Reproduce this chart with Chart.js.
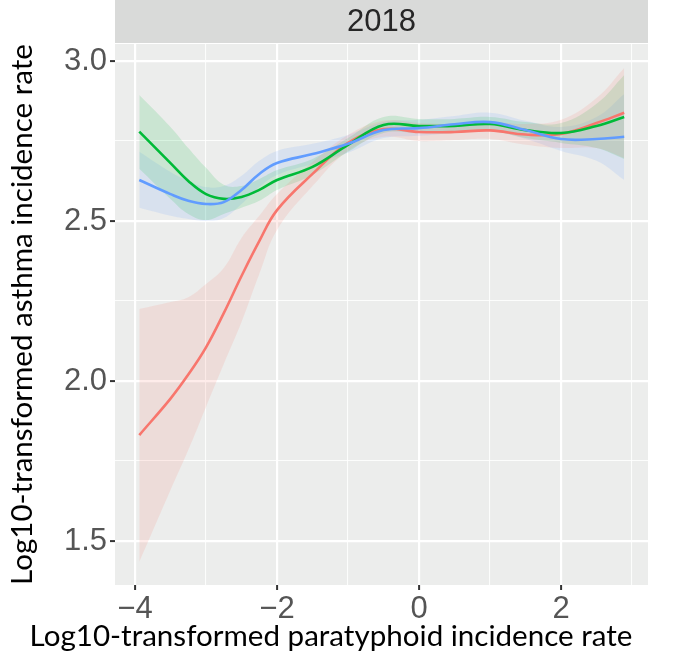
<!DOCTYPE html>
<html>
<head>
<meta charset="utf-8">
<script src="https://cdn.jsdelivr.net/npm/chart.js@4/dist/chart.umd.min.js"></script>
<style>
  html, body { margin: 0; padding: 0; background: #ffffff; }
  #wrap { width: 677px; height: 664px; }
</style>
</head>
<body>
<div id="wrap"><canvas id="c" width="677" height="664"></canvas></div>
<script>
// ---- data ----
const facetLabel = "2018";
const xTitle = "Log10-transformed paratyphoid incidence rate";
const yTitle = "Log10-transformed asthma incidence rate";

const xVals = [-3.94, -3.5, -3.25, -3, -2.75, -2.5, -2.25, -2, -1.5, -1, -0.5, 0, 0.5, 1, 1.5, 2, 2.5, 2.89];

const redLine  = [1.831, 1.945, 2.020, 2.105, 2.212, 2.328, 2.437, 2.534, 2.647, 2.744, 2.787, 2.778, 2.778, 2.783, 2.770, 2.772, 2.806, 2.838];
const redLow   = [1.434, 1.659, 1.784, 1.919, 2.053, 2.184, 2.334, 2.472, 2.609, 2.719, 2.763, 2.750, 2.753, 2.756, 2.738, 2.728, 2.728, 2.697];
const redUp    = [2.225, 2.247, 2.262, 2.303, 2.353, 2.447, 2.516, 2.584, 2.684, 2.769, 2.813, 2.806, 2.803, 2.809, 2.803, 2.816, 2.884, 2.978];

const greenLine = [2.779, 2.681, 2.625, 2.584, 2.569, 2.575, 2.597, 2.628, 2.669, 2.738, 2.800, 2.797, 2.797, 2.803, 2.784, 2.775, 2.797, 2.825];
const greenLow  = [2.663, 2.569, 2.522, 2.503, 2.522, 2.541, 2.563, 2.597, 2.644, 2.716, 2.775, 2.775, 2.775, 2.781, 2.759, 2.744, 2.728, 2.694];
const greenUp   = [2.894, 2.794, 2.728, 2.666, 2.613, 2.609, 2.631, 2.659, 2.694, 2.759, 2.825, 2.819, 2.819, 2.825, 2.809, 2.806, 2.866, 2.956];

const blueLine = [2.628, 2.584, 2.563, 2.553, 2.559, 2.597, 2.647, 2.681, 2.709, 2.741, 2.784, 2.790, 2.802, 2.809, 2.784, 2.756, 2.756, 2.763];
const blueLow  = [2.541, 2.516, 2.506, 2.500, 2.509, 2.553, 2.606, 2.644, 2.678, 2.713, 2.759, 2.766, 2.775, 2.781, 2.756, 2.719, 2.688, 2.628];
const blueUp   = [2.716, 2.653, 2.625, 2.606, 2.609, 2.641, 2.688, 2.719, 2.741, 2.769, 2.809, 2.816, 2.828, 2.838, 2.813, 2.794, 2.825, 2.897];

const xTicks = [-4, -3, -2, -1, 0, 1, 2, 3];
const xMajor = [-4, -2, 0, 2];
const yTicks = [1.5, 1.75, 2.0, 2.25, 2.5, 2.75, 3.0];
const yMajor = [1.5, 2.0, 2.5, 3.0];

const xLimits = [-4.282, 3.225];
const yLimits = [1.3625, 3.053];

// ---- styling ----
const RED = '#F8766D', GREEN = '#00BA38', BLUE = '#619CFF';
const bandAlpha = 0.14;
function rgba(hex, a) {
  const n = parseInt(hex.slice(1), 16);
  return `rgba(${(n >> 16) & 255},${(n >> 8) & 255},${n & 255},${a})`;
}
const pts = arr => xVals.map((x, i) => ({ x: x, y: arr[i] }));

const titleFamily = 'Lato, "Open Sans", sans-serif';
const tickFamily = '"Liberation Sans", Arial, sans-serif';
const mctx = document.createElement('canvas').getContext('2d');
mctx.font = '100px ' + titleFamily;
const titleSize = 100 * 603 / mctx.measureText(xTitle).width;
const TENSION = 0.4;

function lineDs(label, data, color, order) {
  return { label, data: pts(data), borderColor: color, borderWidth: 2.6, pointRadius: 0,
           fill: false, tension: TENSION, order };
}
function lowDs(label, data) {
  return { label, data: pts(data), borderColor: 'rgba(0,0,0,0)', borderWidth: 0, pointRadius: 0,
           fill: false, tension: TENSION, order: 10 };
}
function upDs(label, data, color, target) {
  return { label, data: pts(data), borderColor: 'rgba(0,0,0,0)', borderWidth: 0, pointRadius: 0,
           backgroundColor: rgba(color, bandAlpha), fill: { target: target },
           tension: TENSION, order: 10 };
}

const datasets = [
  lineDs('red', redLine, RED, 2),      // 0
  lineDs('green', greenLine, GREEN, 1),// 1
  lineDs('blue', blueLine, BLUE, 0),   // 2
  lowDs('redLow', redLow),             // 3
  upDs('redUp', redUp, RED, 3),        // 4
  lowDs('greenLow', greenLow),         // 5
  upDs('greenUp', greenUp, GREEN, 5),  // 6
  lowDs('blueLow', blueLow),           // 7
  upDs('blueUp', blueUp, BLUE, 7)      // 8
];

const panelPlugin = {
  id: 'panel',
  beforeDraw(chart) {
    const { ctx, chartArea: a } = chart;
    ctx.save();
    ctx.fillStyle = '#ECEDEC';
    ctx.fillRect(a.left, a.top, a.right - a.left, a.bottom - a.top);
    // facet strip
    ctx.fillStyle = '#D9DAD9';
    ctx.fillRect(a.left, 0, a.right - a.left, a.top - 1);
    ctx.restore();
  },
  afterDraw(chart) {
    const { ctx, chartArea: a } = chart;
    ctx.save();
    ctx.fillStyle = '#262626';
    ctx.font = '31px ' + tickFamily;
    ctx.textAlign = 'center';
    ctx.textBaseline = 'middle';
    ctx.fillText(facetLabel, (a.left + a.right) / 2, (a.top - 1) / 2 + 1);
    ctx.fillStyle = '#000000';
    ctx.font = titleSize.toFixed(2) + 'px ' + titleFamily;
    ctx.fillText(xTitle, 331, 636);
    ctx.restore();
  }
};

const isMajor = (list, v) => list.some(m => Math.abs(m - v) < 1e-6);

new Chart(document.getElementById('c'), {
  type: 'line',
  data: { datasets },
  options: {
    responsive: false,
    animation: false,
    devicePixelRatio: 1,
    layout: { padding: { top: 44, right: 29, bottom: 0, left: 0 } },
    plugins: {
      legend: { display: false },
      tooltip: { enabled: false },
      filler: { drawTime: 'beforeDatasetsDraw', propagate: false }
    },
    scales: {
      x: {
        type: 'linear',
        min: xLimits[0], max: xLimits[1],
        afterBuildTicks: s => { s.ticks = xTicks.map(v => ({ value: v })); },
        afterFit: s => { s.height = 79; },
        border: { display: false },
        grid: {
          color: c => isMajor(xMajor, c.tick.value) ? '#FFFFFF' : 'rgba(255,255,255,0.85)',
          lineWidth: c => isMajor(xMajor, c.tick.value) ? 2.2 : 1.1,
          tickColor: c => isMajor(xMajor, c.tick.value) ? '#333333' : 'rgba(0,0,0,0)',
          tickWidth: 2,
          tickLength: 5,
          drawTicks: true
        },
        ticks: {
          autoSkip: false,
          maxRotation: 0,
          padding: 1,
          color: '#555555',
          font: { family: tickFamily, size: 31 },
          callback: v => isMajor(xMajor, v) ? String(v).replace('-', '\u2212') : ''
        }
      },
      y: {
        type: 'linear',
        min: yLimits[0], max: yLimits[1],
        afterBuildTicks: s => { s.ticks = yTicks.map(v => ({ value: v })); },
        afterFit: s => { s.width = 115; },
        border: { display: false },
        grid: {
          color: c => isMajor(yMajor, c.tick.value) ? '#FFFFFF' : 'rgba(255,255,255,0.85)',
          lineWidth: c => isMajor(yMajor, c.tick.value) ? 2.2 : 1.1,
          tickColor: c => isMajor(yMajor, c.tick.value) ? '#333333' : 'rgba(0,0,0,0)',
          tickWidth: 2,
          tickLength: 5,
          drawTicks: true
        },
        ticks: {
          autoSkip: false,
          padding: 3,
          color: '#555555',
          font: { family: tickFamily, size: 31 },
          callback: v => isMajor(yMajor, v) ? Number(v).toFixed(1) : ''
        },
        title: {
          display: true,
          text: yTitle,
          color: '#000000',
          font: { family: titleFamily, size: titleSize, lineHeight: 1 },
          padding: { top: 22 - titleSize / 2, bottom: 0 }
        }
      }
    }
  },
  plugins: [panelPlugin]
});
</script>
</body>
</html>
